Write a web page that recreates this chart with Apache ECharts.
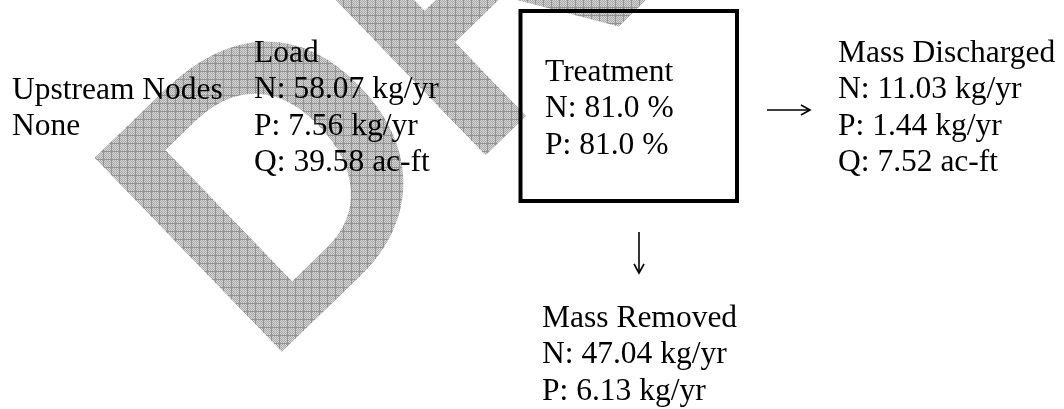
<!DOCTYPE html>
<html>
<head>
<meta charset="utf-8">
<script src="https://cdn.jsdelivr.net/npm/echarts@6/dist/echarts.min.js"></script>
<style>
html, body { margin: 0; padding: 0; background: #fff; }
#main { width: 1064px; height: 409px; }
</style>
</head>
<body>
<div id="main"></div>
<script>
// node data
var upstreamTitle = 'Upstream Nodes';
var upstreamNodes = ['None'];
var loadTitle = 'Load';
var loadLabels = ['N', 'P', 'Q'];
var loadValues = [58.07, 7.56, 39.58];
var loadUnits = ['kg/yr', 'kg/yr', 'ac-ft'];
var treatmentTitle = 'Treatment';
var treatmentLabels = ['N', 'P'];
var treatmentValues = [81.0, 81.0];
var dischargedTitle = 'Mass Discharged';
var dischargedLabels = ['N', 'P', 'Q'];
var dischargedValues = [11.03, 1.44, 7.52];
var dischargedUnits = ['kg/yr', 'kg/yr', 'ac-ft'];
var removedTitle = 'Mass Removed';
var removedLabels = ['N', 'P'];
var removedValues = [47.04, 6.13];
var removedUnits = ['kg/yr', 'kg/yr'];
var watermarkText = 'DRAFT';

var W = 1064, H = 409;
var FONT = '31.5px "Liberation Serif"';
var LINE = 36.5;

function valueLines(title, labels, values, units, digits) {
  var out = [title];
  for (var i = 0; i < labels.length; i++) {
    out.push(labels[i] + ': ' + values[i].toFixed(digits) + ' ' + units[i]);
  }
  return out;
}

// watermark: big rotated text filled with a checkered pattern
function makeWatermark() {
  var tile = document.createElement('canvas');
  tile.width = 8; tile.height = 8;
  var t = tile.getContext('2d');
  t.fillStyle = '#d8d8d8';
  t.fillRect(0, 0, 8, 8);
  t.fillStyle = '#a6a6a6';
  for (var i = 0; i < 8; i++) {
    for (var j = 0; j < 8; j++) {
      if ((i + j) % 2 === 0) t.fillRect(i, j, 1, 1);
    }
  }
  t.fillStyle = '#939393';
  t.fillRect(0, 7, 8, 1);
  t.fillRect(7, 0, 1, 8);

  var c = document.createElement('canvas');
  c.width = W; c.height = H;
  var g = c.getContext('2d');
  g.save();
  g.translate(263, 370);
  g.rotate(-44 * Math.PI / 180);
  g.font = 'bold 392px "Liberation Sans"';
  g.textBaseline = 'alphabetic';
  g.fillStyle = '#000';
  g.fillText(watermarkText, 0, 0);
  g.restore();
  g.globalCompositeOperation = 'source-in';
  g.fillStyle = g.createPattern(tile, 'repeat');
  g.fillRect(0, 0, W, H);
  return c;
}

// text block, first baseline at y
function block(lines, x, y) {
  return {
    type: 'text',
    x: x,
    y: y - LINE / 2 - 10.6,
    silent: true,
    z: 10,
    style: {
      text: lines.join('\n'),
      font: FONT,
      lineHeight: LINE,
      fill: '#000',
      textAlign: 'left',
      textVerticalAlign: 'top'
    }
  };
}

function hArrow(x1, x2, y) {
  return {
    type: 'group', silent: true, z: 10,
    children: [
      { type: 'line', shape: { x1: x1, y1: y, x2: x2 - 1, y2: y }, style: { stroke: '#000', lineWidth: 1.6 } },
      { type: 'polyline', shape: { points: [[x2 - 9, y - 5], [x2, y], [x2 - 9, y + 5]] }, style: { stroke: '#000', lineWidth: 1.6, fill: null } }
    ]
  };
}

function vArrow(x, y1, y2) {
  return {
    type: 'group', silent: true, z: 10,
    children: [
      { type: 'line', shape: { x1: x, y1: y1, x2: x, y2: y2 - 1 }, style: { stroke: '#000', lineWidth: 1.6 } },
      { type: 'polyline', shape: { points: [[x - 5, y2 - 9], [x, y2], [x + 5, y2 - 9]] }, style: { stroke: '#000', lineWidth: 1.6, fill: null } }
    ]
  };
}

var chart = echarts.init(document.getElementById('main'), null, { renderer: 'canvas' });

var treatmentLines = [treatmentTitle];
for (var i = 0; i < treatmentLabels.length; i++) {
  treatmentLines.push(treatmentLabels[i] + ': ' + treatmentValues[i].toFixed(1) + ' %');
}

chart.setOption({
  backgroundColor: '#fff',
  graphic: [
    {
      type: 'image',
      x: 0, y: 0,
      silent: true,
      z: 1,
      style: { image: makeWatermark(), x: 0, y: 0, width: W, height: H }
    },
    block([upstreamTitle].concat(upstreamNodes), 12, 101),
    block(valueLines(loadTitle, loadLabels, loadValues, loadUnits, 2), 254, 64),
    hArrow(468, 509, 112),
    {
      type: 'rect', silent: true, z: 10,
      shape: { x: 520.5, y: 11, width: 216.5, height: 190 },
      style: { stroke: '#000', lineWidth: 4, fill: null }
    },
    block(treatmentLines, 545, 83),
    hArrow(767, 810, 110),
    block(valueLines(dischargedTitle, dischargedLabels, dischargedValues, dischargedUnits, 2), 838, 64),
    vArrow(639, 232, 273),
    block(valueLines(removedTitle, removedLabels, removedValues, removedUnits, 2), 542, 329)
  ]
});
</script>
</body>
</html>
